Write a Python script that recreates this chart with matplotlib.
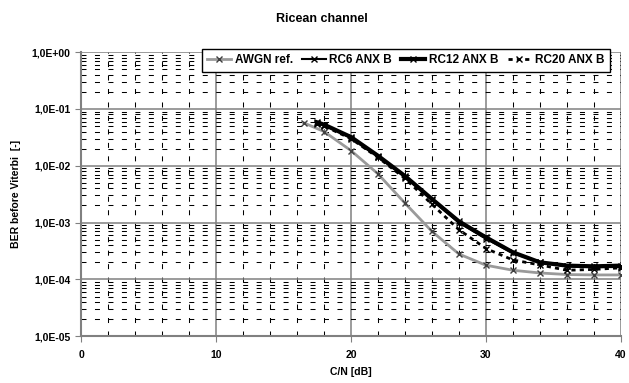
"""Ricean channel BER curves, Excel style."""

import matplotlib

matplotlib.use("Agg")
import matplotlib.pyplot as plt
from matplotlib.ticker import FixedLocator, NullFormatter

plt.rcParams["font.family"] = ["Liberation Sans", "DejaVu Sans"]
plt.rcParams["font.weight"] = "bold"
plt.rcParams["lines.scale_dashes"] = False

# C/N [dB] and BER values
awgn_cn = [16.5, 18, 20, 22, 24, 26, 28, 30, 32, 34, 36, 38, 40]
awgn_ber = [5.7e-2, 4.0e-2, 1.85e-2, 7.2e-3, 2.2e-3, 7.0e-4, 2.8e-4,
            1.78e-4, 1.45e-4, 1.3e-4, 1.22e-4, 1.2e-4, 1.2e-4]

rc_cn = [17.5, 18, 20, 22, 24, 26, 28, 30, 32, 34, 36, 38, 40]
rc6_ber = [5.6e-2, 5.2e-2, 3.1e-2, 1.45e-2, 6.4e-3, 2.5e-3, 1.0e-3,
           5.2e-4, 2.9e-4, 2.0e-4, 1.7e-4, 1.65e-4, 1.65e-4]
rc12_ber = [5.8e-2, 5.3e-2, 3.2e-2, 1.5e-2, 6.6e-3, 2.6e-3, 1.05e-3,
            5.5e-4, 3.0e-4, 2.0e-4, 1.75e-4, 1.7e-4, 1.75e-4]
rc20_ber = [5.4e-2, 5.0e-2, 3.0e-2, 1.4e-2, 6.0e-3, 2.1e-3, 7.5e-4,
            3.5e-4, 2.2e-4, 1.8e-4, 1.45e-4, 1.5e-4, 1.6e-4]

x_ticks = [0, 10, 20, 30, 40]
y_ticks = [1e-5, 1e-4, 1e-3, 1e-2, 1e-1, 1e0]
y_labels = ["1,0E-05", "1,0E-04", "1,0E-03", "1,0E-02", "1,0E-01", "1,0E+00"]

figure = plt.figure(figsize=(6.29, 3.83), dpi=100)
axis = figure.add_axes([0.129, 0.122, 0.858, 0.742])

axis.set_yscale("log")
axis.set_xlim(0, 40)
axis.set_ylim(1e-5, 1)

axis.xaxis.set_major_locator(FixedLocator(x_ticks))
axis.xaxis.set_minor_locator(FixedLocator([v for v in range(0, 41, 2) if v % 10]))
axis.yaxis.set_major_locator(FixedLocator(y_ticks))
axis.yaxis.set_minor_locator(
    FixedLocator([m * 10.0 ** e for e in range(-5, 0) for m in range(2, 10)])
)
axis.yaxis.set_minor_formatter(NullFormatter())
axis.set_yticklabels(y_labels)

axis.grid(which="major", color="#808080", linewidth=1.1, linestyle="-")
axis.grid(which="minor", color="black", linewidth=0.75, linestyle=(0, (3.6, 6.1)))
axis.set_axisbelow(True)

for side in ("top", "right"):
    axis.spines[side].set_visible(False)
for side in ("left", "bottom"):
    axis.spines[side].set_color("#808080")
    axis.spines[side].set_linewidth(1.5)

axis.tick_params(which="major", direction="out", length=4, color="#808080",
                 labelsize=7.5)
axis.tick_params(axis="x", which="major", pad=6)
axis.tick_params(which="minor", length=0)

axis.plot(awgn_cn, awgn_ber, color="#9a9a9a", linewidth=2, marker="x",
          markersize=5, markeredgecolor="#404040", markeredgewidth=1,
          label="AWGN ref.")
axis.plot(rc_cn, rc6_ber, color="black", linewidth=1.5, marker="x",
          markersize=5, markeredgewidth=1, label="RC6 ANX B")
axis.plot(rc_cn, rc12_ber, color="black", linewidth=3, marker="x",
          markersize=5, markeredgewidth=1, label="RC12 ANX B")
axis.plot(rc_cn, rc20_ber, color="black", linewidth=2, linestyle=(0, (3, 3)),
          marker="x", markersize=5, markeredgewidth=1, label="RC20 ANX B")

legend = axis.legend(loc="upper right", bbox_to_anchor=(0.99, 1.032), ncol=4,
                     frameon=True, fancybox=False, framealpha=1,
                     edgecolor="black", borderpad=0.45, handlelength=2.0,
                     handletextpad=0.3, columnspacing=0.8,
                     prop={"weight": "bold", "size": 8.5})
legend.get_frame().set_linewidth(1)

axis.set_xlabel("C/N [dB]", fontsize=7.5, fontweight="bold", labelpad=5)
axis.set_ylabel("BER before Viterbi  [-]", fontsize=7.5, fontweight="bold",
                labelpad=8)
figure.suptitle("Ricean channel", x=0.512, y=0.95, va="center", fontsize=9,
                fontweight="bold")

figure.savefig("out.png", dpi=100)
